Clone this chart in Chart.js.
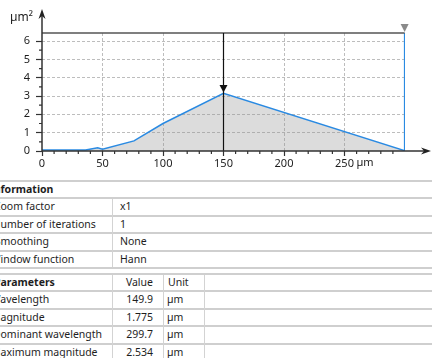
<!DOCTYPE html>
<html>
<head>
<meta charset="utf-8">
<script src="https://cdn.jsdelivr.net/npm/chart.js@4.4.1/dist/chart.umd.min.js"></script>
<style>
  html, body { margin: 0; padding: 0; background: #fff; overflow: hidden; }
  body { width: 432px; height: 358px; position: relative; font-family: "Noto Sans", sans-serif; font-size: 10.5px; color: #1e1e1e; }
  #chartBox { position: absolute; left: 0; top: 0; width: 432px; height: 178px; }
  .hline { position: absolute; left: 0; width: 432px; height: 2px; background: #cfcfcf; }
  .vline { position: absolute; width: 1px; background: #d3d3d3; }
  .cell { position: absolute; height: 17px; line-height: 17px; white-space: nowrap; }
  .bold { font-weight: bold; }
</style>
</head>
<body>
<div id="chartBox"><canvas id="myChart"></canvas></div>
<div id="table"></div>
<script>
// profile (x in µm, y in µm²)
const waveX = [0, 25, 36, 46, 50, 76, 100, 150, 299.7];
const magY = [0.05, 0.05, 0.06, 0.17, 0.1, 0.55, 1.5, 3.15, 0.02];
const edgeX = [299.7, 299.7];
const edgeY = [0.02, 6.44];
const markerX = 150;
const xMax = 300;
const yMax = 6.44;
const xLastLabel = 250;

const infoTitle = "Information";
const infoNames = ["Zoom factor", "Number of iterations", "Smoothing", "Window function"];
const infoValues = ["x1", "1", "None", "Hann"];

const paramTitle = "Parameters";
const paramHeads = ["Value", "Unit"];
const paramNames = ["Wavelength", "Magnitude", "Dominant wavelength", "Maximum magnitude"];
const paramValues = ["149.9", "1.775", "299.7", "2.534"];
const paramUnits = ["µm", "µm", "µm", "µm"];

const FONT = "Noto Sans";
const TABLE_SIZE = 10.5;
const blue = "#2a8ae2";

function arrowHead(ctx, tipX, tipY, dx, dy) {
  const len = 10, half = 3.5, notch = 3;
  const bx = tipX - dx * len, by = tipY - dy * len;
  const nx = tipX - dx * (len - notch), ny = tipY - dy * (len - notch);
  ctx.beginPath();
  ctx.moveTo(tipX, tipY);
  ctx.lineTo(bx - dy * half, by + dx * half);
  ctx.lineTo(nx, ny);
  ctx.lineTo(bx + dy * half, by - dx * half);
  ctx.closePath();
  ctx.fill();
}

function triangleDown(ctx, x, yTop, w, h) {
  ctx.beginPath();
  ctx.moveTo(x - w / 2, yTop);
  ctx.lineTo(x + w / 2, yTop);
  ctx.lineTo(x, yTop + h);
  ctx.closePath();
  ctx.fill();
}

const decorations = {
  id: "decorations",
  afterDatasetsDraw(chart) {
    const ctx = chart.ctx;
    const area = chart.chartArea;
    const xs = chart.scales.x;
    const ys = chart.scales.y;
    const x0 = xs.getPixelForValue(0);
    const y0 = ys.getPixelForValue(0);
    ctx.save();

    // top border line
    ctx.strokeStyle = "#555";
    ctx.lineWidth = 1.5;
    ctx.beginPath();
    ctx.moveTo(area.left, area.top);
    ctx.lineTo(xs.getPixelForValue(edgeX[0]), area.top);
    ctx.stroke();

    // marker line at the wavelength
    const mx = xs.getPixelForValue(markerX);
    ctx.strokeStyle = "#111";
    ctx.lineWidth = 1.2;
    ctx.beginPath();
    ctx.moveTo(mx, area.top);
    ctx.lineTo(mx, y0);
    ctx.stroke();
    ctx.fillStyle = "#111";
    triangleDown(ctx, mx, 85, 8, 7.5);

    // grey marker at the dominant wavelength
    ctx.fillStyle = "#8a8a8a";
    triangleDown(ctx, xs.getPixelForValue(edgeX[0]), area.top - 9, 8, 8);

    // axes
    ctx.strokeStyle = "#333";
    ctx.fillStyle = "#222";
    ctx.lineWidth = 1.5;
    ctx.beginPath();
    ctx.moveTo(x0, y0);
    ctx.lineTo(x0, 12);
    ctx.moveTo(x0, y0);
    ctx.lineTo(428, y0);
    ctx.stroke();
    arrowHead(ctx, x0, 9, 0, -1);
    arrowHead(ctx, 431, y0, 1, 0);

    // minor ticks
    ctx.lineWidth = 1.2;
    ctx.beginPath();
    for (let v = 10; v < xMax; v += 10) {
      if (v % 50 === 0) continue;
      const px = xs.getPixelForValue(v);
      ctx.moveTo(px, y0);
      ctx.lineTo(px, y0 + 3);
    }
    for (let v = 0.5; v < yMax; v += 1) {
      const py = ys.getPixelForValue(v);
      ctx.moveTo(x0, py);
      ctx.lineTo(x0 - 3, py);
    }
    ctx.stroke();

    // unit labels
    ctx.fillStyle = "#222";
    ctx.font = "12px '" + FONT + "'";
    ctx.textBaseline = "middle";
    ctx.textAlign = "right";
    ctx.fillText("µm²", 33, 18);
    ctx.font = "11px '" + FONT + "'";
    ctx.textAlign = "left";
    ctx.fillText("µm", xs.getPixelForValue(xLastLabel) + 12, 163);
    ctx.restore();
  }
};

const gridColor = (c) => (c.tick && c.tick.value === 0 ? "rgba(0,0,0,0)" : "#bdbdbd");

new Chart("myChart", {
  type: "scatter",
  data: {
    datasets: [
      {
        data: waveX.map((x, i) => ({ x: x, y: magY[i] })),
        showLine: true,
        borderColor: blue,
        borderWidth: 1.5,
        backgroundColor: "rgba(150,150,150,0.33)",
        fill: "origin",
        pointRadius: 0,
        tension: 0,
      },
      {
        data: edgeX.map((x, i) => ({ x: x, y: edgeY[i] })),
        showLine: true,
        borderColor: blue,
        borderWidth: 1.5,
        fill: false,
        pointRadius: 0,
      },
    ],
  },
  options: {
    responsive: true,
    maintainAspectRatio: false,
    animation: false,
    devicePixelRatio: 1,
    layout: { padding: { top: 33, right: 27, bottom: 0, left: 0 } },
    plugins: { legend: { display: false }, tooltip: { enabled: false } },
    scales: {
      x: {
        type: "linear",
        min: 0,
        max: xMax,
        afterFit: (s) => { s.height = 27; },
        afterBuildTicks: (s) => { s.ticks = s.ticks.filter((t) => t.value <= xLastLabel); },
        ticks: { stepSize: 50, color: "#1e1e1e", font: { family: FONT, size: 11 }, padding: 1, maxRotation: 0, autoSkip: false },
        grid: { color: gridColor, tickColor: "#333", tickLength: 5, tickWidth: 1.2 },
        border: { display: false, dash: [3, 2] },
      },
      y: {
        min: 0,
        max: yMax,
        afterFit: (s) => { s.width = 42; },
        ticks: { stepSize: 1, includeBounds: false, color: "#1e1e1e", font: { family: FONT, size: 11 }, padding: 6 },
        grid: { color: gridColor, tickColor: "#333", tickLength: 6, tickWidth: 1.2 },
        border: { display: false, dash: [3, 2] },
      },
    },
  },
  plugins: [decorations],
});

// table below the chart; the first column is cut at the left edge
const table = document.getElementById("table");
const rowH = 17.4;
const measure = document.createElement("canvas").getContext("2d");

function textWidth(text, bold) {
  measure.font = (bold ? "bold " : "") + TABLE_SIZE + "px '" + FONT + "'";
  return measure.measureText(text).width;
}
function addLine(y) {
  const l = document.createElement("div");
  l.classList.add("hline");
  l.style.top = y + "px";
  table.append(l);
}
function addVLine(x, y1, y2) {
  const l = document.createElement("div");
  l.classList.add("vline");
  l.style.left = x + "px";
  l.style.top = y1 + "px";
  l.style.height = (y2 - y1) + "px";
  table.append(l);
}
function addCell(text, x, y, opts) {
  const c = document.createElement("div");
  c.classList.add("cell");
  if (opts && opts.bold) c.classList.add("bold");
  c.style.top = (y + 1) + "px";
  if (opts && opts.right) {
    c.style.right = (432 - x) + "px";
  } else {
    c.style.left = x + "px";
  }
  c.textContent = text;
  table.append(c);
}
function addName(text, y, cut, bold) {
  addCell(text, 0.5 - textWidth(text.slice(0, cut), bold), y, { bold: bold });
}

const infoTop = 180;
for (let i = 0; i <= infoNames.length + 1; i++) addLine(infoTop + i * rowH);
addName(infoTitle, infoTop, 2, true);
infoNames.forEach((name, i) => {
  const y = infoTop + (i + 1) * rowH;
  addName(name, y, 1, false);
  addCell(infoValues[i], 120, y);
});
addVLine(112, infoTop + rowH + 2, infoTop + (infoNames.length + 1) * rowH);

const paramTop = 273;
for (let i = 0; i <= paramNames.length + 1; i++) addLine(paramTop + i * rowH);
addName(paramTitle, paramTop, 1, true);
addCell(paramHeads[0], 153, paramTop, { right: true });
addCell(paramHeads[1], 168, paramTop);
paramNames.forEach((name, i) => {
  const y = paramTop + (i + 1) * rowH;
  addName(name, y, 1, false);
  addCell(paramValues[i], 153, y, { right: true });
  addCell(paramUnits[i], 167, y);
});
[112, 163, 204].forEach((x) => addVLine(x, paramTop + 2, 358));
</script>
</body>
</html>
